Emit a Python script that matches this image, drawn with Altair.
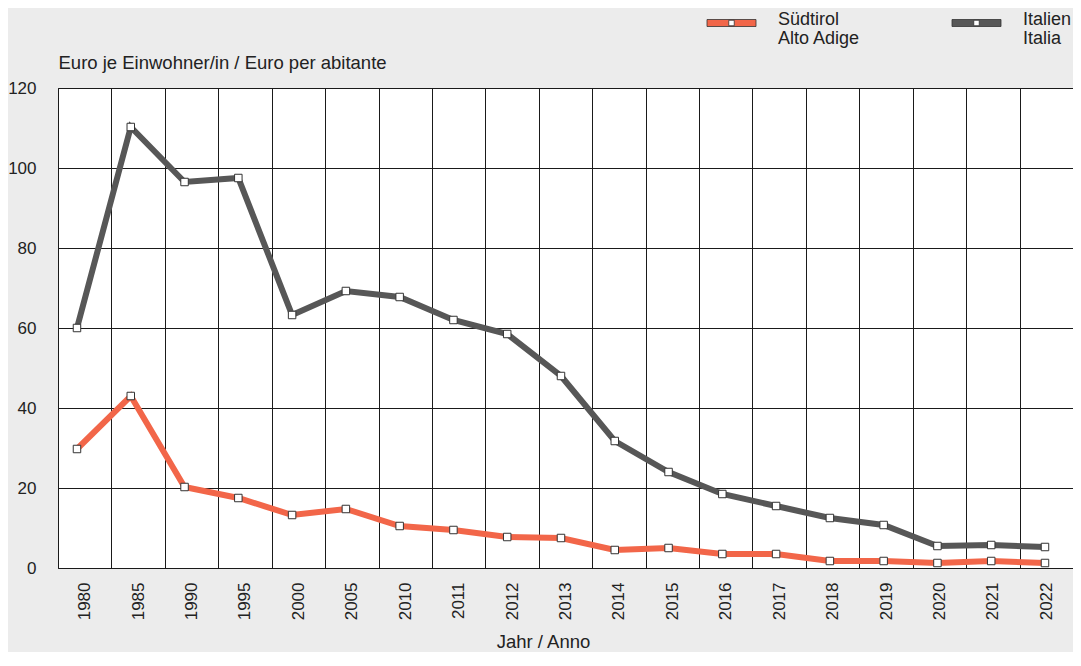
import altair as alt
import pandas as pd

years = ["1980", "1985", "1990", "1995", "2000", "2005", "2010", "2011", "2012",
         "2013", "2014", "2015", "2016", "2017", "2018", "2019", "2020", "2021", "2022"]
suedtirol = [29.75, 43.0, 20.25, 17.5, 13.25, 14.75, 10.5, 9.5, 7.75,
             7.5, 4.5, 5.0, 3.5, 3.5, 1.75, 1.75, 1.25, 1.75, 1.25]
italia = [60.0, 110.25, 96.5, 97.5, 63.25, 69.25, 67.75, 62.0, 58.5,
          48.0, 31.75, 24.0, 18.5, 15.5, 12.5, 10.75, 5.5, 5.75, 5.25]
series = ["Südtirol", "Italia"]
legend_labels = [["Südtirol", "Alto Adige"], ["Italien", "Italia"]]
colors = ["#f26649", "#575757"]
y_ticks = [0, 20, 40, 60, 80, 100, 120]

df = pd.DataFrame({
    "Jahr": years * 2,
    "Wert": suedtirol + italia,
    "Serie": [series[0]] * len(years) + [series[1]] * len(years),
})

FONT = "Liberation Sans"
TXT = "#222222"
GRID = "#1a1a1a"

y_enc = alt.Y(
    "Wert:Q",
    scale=alt.Scale(domain=[0, 120], nice=False),
    axis=alt.Axis(
        values=y_ticks, title="Euro je Einwohner/in / Euro per abitante",
        titleAngle=0, titleX=0, titleY=-26, titleAlign="left", titleBaseline="middle",
        titleFont=FONT, titleFontSize=18.5, titleFontWeight="normal", titleColor=TXT,
        ticks=False, domain=False, labelPadding=22, labelFontSize=17,
        labelFont=FONT, labelColor=TXT, gridColor=GRID, gridOpacity=1,
    ),
)

# axis layer: band scale, labels centred in bands, grid at band edges
x_axis = alt.X(
    "Jahr:N", sort=years,
    scale=alt.Scale(type="band", paddingInner=0, paddingOuter=0),
    axis=alt.Axis(
        title="Jahr / Anno", labelAngle=-90, ticks=False, domain=False,
        grid=True, gridColor=GRID, gridOpacity=1, tickBand="extent",
        labelPadding=14, labelFontSize=17, labelFont=FONT, labelColor=TXT,
        titleFont=FONT, titleFontSize=18.5, titleFontWeight="normal", titleColor=TXT,
        titleX=485, titleY=73, titleAlign="center", titleBaseline="middle",
    ),
)
# data layers: point scale (points sit slightly left of band centres as in the source)
x_pts = alt.X(
    "Jahr:N", sort=years,
    scale=alt.Scale(type="point", padding=0.437, align=0.404),
    axis=None,
)
color_enc = alt.Color("Serie:N", scale=alt.Scale(domain=series, range=colors), legend=None)

base = alt.Chart(df)
axis_layer = base.mark_point(opacity=0).encode(x=x_axis, y=y_enc)
lines = base.mark_line(strokeWidth=6).encode(x=x_pts, y=y_enc, color=color_enc, detail="Serie:N")
points = base.mark_square(size=56, filled=True, fill="white", stroke="#333333",
                          strokeWidth=1, opacity=1).encode(x=x_pts, y=y_enc, detail="Serie:N")

# manual legend (top right)
leg_layers = []
leg_x = [649, 894]
for i, s in enumerate(series):
    x0 = leg_x[i]
    ldf = pd.DataFrame({"Serie": [s]})
    lc = alt.Chart(ldf)
    leg_layers.append(lc.mark_rect(fill=colors[i], stroke="#333333", strokeWidth=0.8).encode(
        x=alt.value(x0), x2=alt.value(x0 + 49), y=alt.value(-68.5), y2=alt.value(-61.5)))
    leg_layers.append(lc.mark_square(size=30, filled=True, fill="white", stroke="#333333",
                                     strokeWidth=0.8, opacity=1).encode(
        x=alt.value(x0 + 24.5), y=alt.value(-65)))
    leg_layers.append(lc.mark_text(align="left", baseline="top", font=FONT, fontSize=18,
                                   color=TXT, lineHeight=19).encode(
        x=alt.value(x0 + 71), y=alt.value(-77.5), text=alt.value(legend_labels[i])))

chart = alt.layer(axis_layer, lines, points, *leg_layers).resolve_scale(
    x="independent"
).properties(
    width=1015, height=480,
    background="#ececec",
    padding={"left": 50, "top": 80, "right": 0, "bottom": 84},
    autosize=alt.AutoSizeParams(type="none"),
).configure_view(fill="white", stroke=GRID, strokeWidth=1)

chart.save("out.html", embed_options={"renderer": "svg", "actions": False})
